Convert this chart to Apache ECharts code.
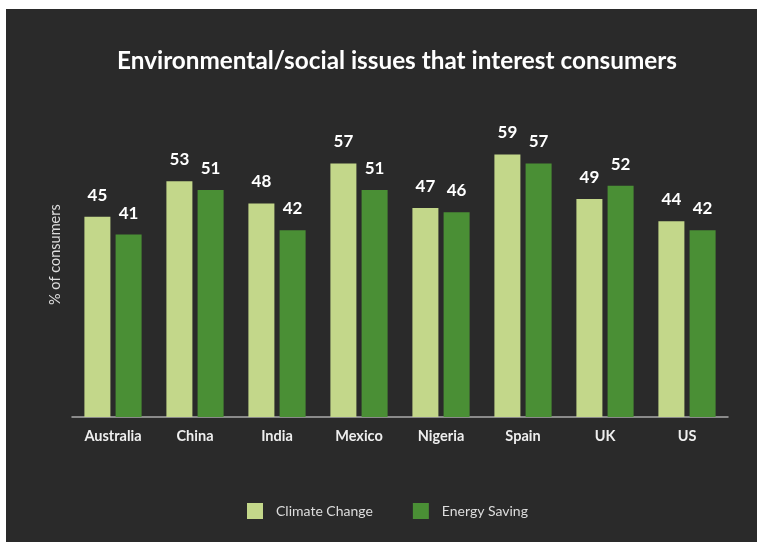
<!DOCTYPE html>
<html>
<head>
<meta charset="utf-8">
<script src="https://cdn.jsdelivr.net/npm/echarts@6/dist/echarts.min.js"></script>
<style>
html,body{margin:0;padding:0;background:#ffffff;width:760px;height:542px;overflow:hidden;}
#chart{position:absolute;left:6px;top:9px;width:751px;height:533px;background:#2a2a2a;}
</style>
</head>
<body>
<div id="chart"></div>
<script>
const categories = ["Australia", "China", "India", "Mexico", "Nigeria", "Spain", "UK", "US"];
const climateChange = [45, 53, 48, 57, 47, 59, 49, 44];
const energySaving = [41, 51, 42, 51, 46, 57, 52, 42];
const seriesNames = ["Climate Change", "Energy Saving"];
const titleText = "Environmental/social issues that interest consumers";
const yAxisName = "% of consumers";

const FONT = "Lato, 'Noto Sans', sans-serif";
const chart = echarts.init(document.getElementById('chart'), null, {renderer: 'canvas'});
const labelStyle = {
  show: true, position: 'top', distance: 13,
  color: '#ffffff', fontFamily: FONT, fontWeight: 'bold', fontSize: 17
};
chart.setOption({
  backgroundColor: '#2a2a2a',
  animation: false,
  title: {
    text: titleText, left: 106, top: 35,
    textStyle: {color: '#ffffff', fontFamily: FONT, fontWeight: 'bold', fontSize: 24.3}
  },
  legend: {
    bottom: 18, left: 236,
    itemWidth: 16, itemHeight: 16, itemGap: 40,
    icon: 'rect',
    textStyle: {color: '#dddddd', fontFamily: FONT, fontSize: 14, padding: [0, 0, 0, 8]},
    data: seriesNames
  },
  grid: {left: 66, right: 29, top: 83.2, bottom: 125},
  xAxis: {
    type: 'category', data: categories,
    axisLine: {lineStyle: {color: '#aaaaaa', width: 1.5}},
    axisTick: {show: false},
    axisLabel: {color: '#eeeeee', fontFamily: FONT, fontWeight: 'bold', fontSize: 14.5, margin: 12}
  },
  yAxis: {
    type: 'value', min: 0, max: 73,
    name: yAxisName, nameLocation: 'middle', nameGap: 9,
    nameTextStyle: {color: '#dddddd', fontFamily: FONT, fontSize: 14.5},
    axisLine: {show: false}, axisTick: {show: false},
    axisLabel: {show: false}, splitLine: {show: false}
  },
  series: [
    {
      name: seriesNames[0], type: 'bar', data: climateChange,
      barWidth: 26, barGap: '20%',
      itemStyle: {color: '#c3d78a'},
      label: labelStyle
    },
    {
      name: seriesNames[1], type: 'bar', data: energySaving,
      barWidth: 26,
      itemStyle: {color: '#4a8f35'},
      label: labelStyle
    }
  ]
});
</script>
</body>
</html>
